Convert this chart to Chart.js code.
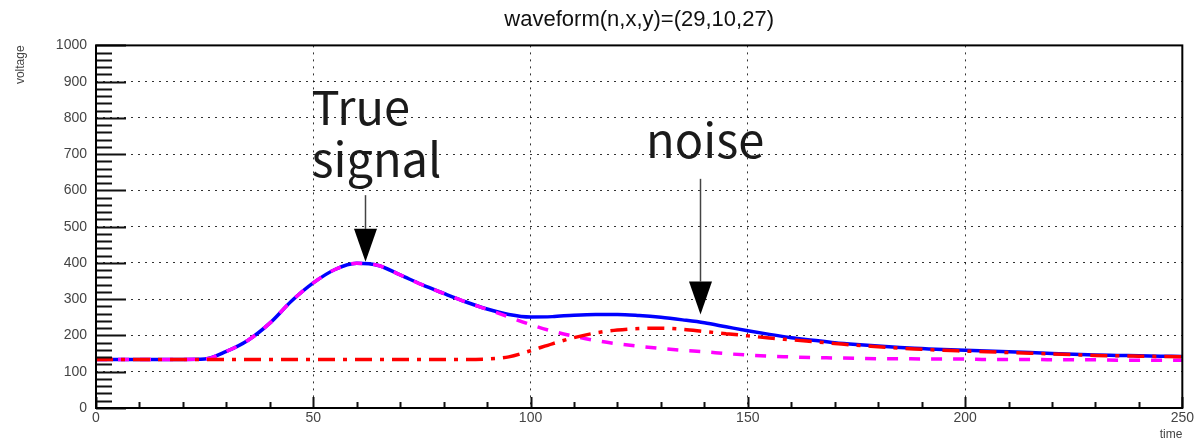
<!DOCTYPE html>
<html><head><meta charset="utf-8">
<script src="https://cdn.jsdelivr.net/npm/chart.js@4.4.1/dist/chart.umd.min.js"></script>
<style>html,body{margin:0;padding:0;background:#fff;}canvas{display:block;}</style>
</head><body>
<canvas id="c" width="1196" height="442"></canvas>
<script>
// ---- data ----
const chartTitle = 'waveform(n,x,y)=(29,10,27)';
const xAxisTitle = 'time';
const yAxisTitle = 'voltage';
const time = [0,5,10,15,20,25,30,35,40,45,
              50,55,60,65,70,75,80,85,90,95,
              100,105,110,115,120,125,130,135,140,145,
              150,155,160,165,170,175,180,185,190,195,
              200,205,210,215,220,225,230,235,240,245,
              250];
const totalVoltage = [134,134,134,134,134,135,156,187,234,295,
                      345,382,399,393,367,340,316,293,273,258,
                      251,252,256,258,258,255,250,243,235,224,
                      213,203,194,187,180,175,171,167,164,161,
                      159,157,155,153,150,148,146,145,144,143,
                      142];
const signalVoltage = [134,134,134,134,134,135,156,187,234,295,
                       345,382,399,393,367,340,316,293,272,251,
                       230,212,198,186,177,170,164,159,155,150,
                       146,143,141,139,138,137,136,136,135,135,
                       135,134,134,134,133,133,133,132,132,132,
                       132];
const noiseVoltage = [134,134,134,134,134,134,134,134,134,134,
                      134,134,134,134,134,134,134,134,135,141,
                      158,177,194,207,215,219,220,217,211,205,
                      199,193,188,183,178,173,169,165,162,159,
                      157,155,153,151,149,147,145,144,143,142,
                      141];
const xRange = [0, 250];
const yRange = [0, 1000];
const xMajorStep = 50, xMinorStep = 10;
const yMajorStep = 100, yMinorStep = 20;
const annotationTexts = [['True', 'signal'], ['noise']];

// ---- chart ----
const pts = arr => time.map((t, i) => ({x: t, y: arr[i]}));

const notes = [
  {lines: annotationTexts[0], tx: 49.6, ty: [781, 638], ax: 61.8, aTop: 587, aTip: 403},
  {lines: annotationTexts[1], tx: 126.6, ty: [690], ax: 139.1, aTop: 632, aTip: 258}
];

const decor = {
  id: 'decor',
  afterDraw(chart) {
    const {ctx, chartArea: a, scales: {x, y}} = chart;
    ctx.save();
    ctx.strokeStyle = '#111';
    ctx.lineWidth = 2;
    ctx.beginPath();
    for (let v = yRange[0]; v <= yRange[1]; v += yMinorStep) {
      const py = Math.round(y.getPixelForValue(v)) + 0.5;
      const len = (v % yMajorStep === 0) ? 30 : 16;
      ctx.moveTo(a.left, py); ctx.lineTo(a.left + len, py);
    }
    for (let v = xRange[0]; v <= xRange[1]; v += xMinorStep) {
      const px = Math.round(x.getPixelForValue(v)) + 0.5;
      const len = (v % xMajorStep === 0) ? 11 : 6;
      ctx.moveTo(px, a.bottom); ctx.lineTo(px, a.bottom - len);
    }
    ctx.stroke();
    ctx.lineWidth = 2;
    ctx.strokeStyle = '#000';
    ctx.strokeRect(a.left, a.top, a.right - a.left, a.bottom - a.top);
    ctx.font = '47px "Noto Sans CJK JP", "Noto Sans", sans-serif';
    ctx.textAlign = 'left';
    ctx.textBaseline = 'alphabetic';
    notes.forEach(n => {
      ctx.fillStyle = '#1a1a1a';
      n.lines.forEach((s, i) => ctx.fillText(s, x.getPixelForValue(n.tx), y.getPixelForValue(n.ty[i])));
      const ax = Math.round(x.getPixelForValue(n.ax)) + 0.5;
      const top = y.getPixelForValue(n.aTop), tip = y.getPixelForValue(n.aTip);
      const triH = 33, triW = 23;
      ctx.strokeStyle = '#444';
      ctx.lineWidth = 1.5;
      ctx.beginPath(); ctx.moveTo(ax, top); ctx.lineTo(ax, tip - triH); ctx.stroke();
      ctx.fillStyle = '#000';
      ctx.beginPath();
      ctx.moveTo(ax - triW / 2, tip - triH); ctx.lineTo(ax + triW / 2, tip - triH); ctx.lineTo(ax, tip);
      ctx.closePath(); ctx.fill();
    });
    ctx.restore();
  }
};

const tickFont = {family: '"Liberation Sans", Arial, sans-serif', size: 14};
const gridOpts = {color: 'rgba(0,0,0,0.8)', lineWidth: 1, drawTicks: false};

new Chart(document.getElementById('c'), {
  type: 'line',
  data: {
    datasets: [
      {label: 'total', data: pts(totalVoltage), borderColor: '#0000ff', borderWidth: 3.5, order: 3},
      {label: 'signal', data: pts(signalVoltage), borderColor: '#ff00ff', borderWidth: 3.5, borderDash: [11, 11], order: 2},
      {label: 'noise', data: pts(noiseVoltage), borderColor: '#ff0000', borderWidth: 3.5, borderDash: [17, 8, 4, 8], order: 1}
    ]
  },
  options: {
    responsive: false,
    animation: false,
    devicePixelRatio: 1,
    elements: {point: {radius: 0}, line: {cubicInterpolationMode: 'monotone', fill: false}},
    layout: {padding: {top: 0, left: 0, right: 13, bottom: 0}},
    plugins: {
      legend: {display: false},
      tooltip: {enabled: false},
      title: {
        display: true, text: chartTitle, fullSize: false, color: '#111',
        font: {family: '"Liberation Sans", Arial, sans-serif', size: 22, weight: 'normal'},
        padding: {top: 7, bottom: 12}
      }
    },
    scales: {
      x: {
        type: 'linear', min: xRange[0], max: xRange[1],
        ticks: {stepSize: xMajorStep, font: tickFont, color: '#444', padding: 2, maxRotation: 0,
                callback: v => String(v)},
        grid: gridOpts,
        border: {display: false, dash: [2, 5]},
        title: {display: true, text: xAxisTitle, align: 'end', color: '#444',
                font: {family: '"Liberation Sans", Arial, sans-serif', size: 12}, padding: 0},
        afterFit(s) { s.height = 34; }
      },
      y: {
        type: 'linear', min: yRange[0], max: yRange[1],
        ticks: {stepSize: yMajorStep, font: tickFont, color: '#444', padding: 9,
                callback: v => String(v)},
        grid: gridOpts,
        border: {display: false, dash: [2, 5]},
        title: {display: true, text: yAxisTitle, align: 'end', color: '#444',
                font: {family: '"Liberation Sans", Arial, sans-serif', size: 12}, padding: {top: 13}},
        afterFit(s) { s.width = 96; }
      }
    }
  },
  plugins: [decor]
});
</script>
</body></html>
